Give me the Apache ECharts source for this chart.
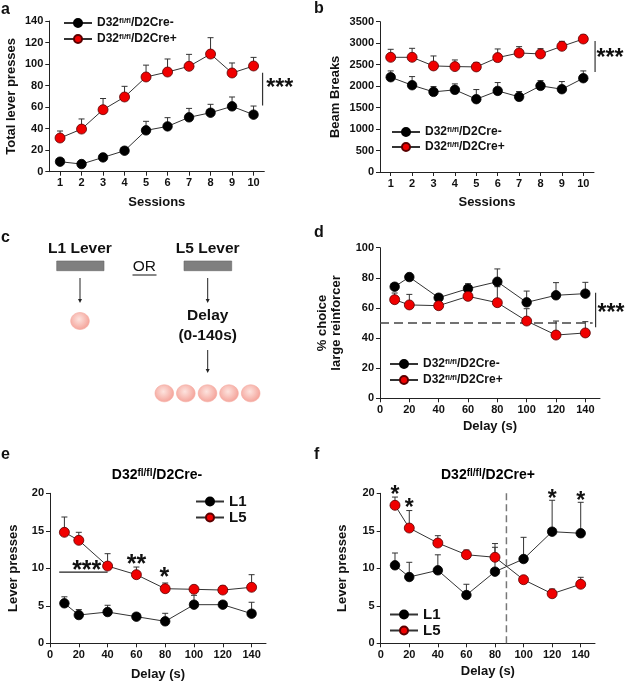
<!DOCTYPE html>
<html><head><meta charset="utf-8">
<script src="https://cdn.jsdelivr.net/npm/echarts@6/dist/echarts.min.js"></script>
<style>html,body{margin:0;padding:0;background:#fff}#c{width:626px;height:685px}</style>
</head><body><div id="c"></div><script>
const FONT = '"Liberation Sans", Arial, Helvetica, sans-serif';

// ---------- data ----------
const sessions = [1, 2, 3, 4, 5, 6, 7, 8, 9, 10];
const delays = [10, 20, 40, 60, 80, 100, 120, 140];
const delayTicks = [0, 20, 40, 60, 80, 100, 120, 140];

const aCreNeg = [9.3, 7.1, 13.3, 19.5, 38.4, 42.1, 50.5, 54.8, 60.7, 53.0];
const aCreNegErr = [2.5, 1.5, 3, 3, 8.4, 8.1, 8.3, 7.8, 8.7, 8.0];
const aCrePos = [31.3, 39.6, 57.6, 69.4, 88.0, 92.6, 97.9, 109.3, 91.7, 98.2];
const aCrePosErr = [6.5, 9.4, 10.4, 9.9, 11.0, 12.1, 11.1, 15.2, 9.3, 8.0];

const bCreNeg = [2207, 2021, 1866, 1913, 1696, 1889, 1750, 2006, 1928, 2184];
const bCreNegErr = [147, 201, 124, 139, 224, 194, 124, 123, 178, 170];
const bCrePos = [2671, 2671, 2470, 2455, 2447, 2664, 2772, 2749, 2927, 3097];
const bCrePosErr = [186, 209, 232, 154, 101, 201, 147, 124, 116, 93];

const dCreNeg = [74.1, 80.5, 66.8, 72.8, 77.4, 63.7, 68.4, 69.5];
const dCreNegErr = [2, 1.5, 2.2, 3.3, 8.5, 7.5, 8.4, 7.5];
const dCrePos = [65.5, 62.0, 61.5, 67.7, 63.5, 51.3, 42.0, 43.4];
const dCrePosErr = [4.4, 7.0, 1.5, 1.5, 10.6, 8.2, 9.3, 7.5];
const dChance = 50;

const eL1 = [5.33, 3.77, 4.17, 3.55, 2.93, 5.15, 5.15, 3.95];
const eL1Err = [0.87, 0.73, 0.9, 0.4, 1.07, 1.25, 0.4, 1.52];
const eL5 = [14.8, 13.73, 10.3, 9.15, 7.28, 7.2, 7.1, 7.47];
const eL5Err = [2.04, 1.07, 1.65, 1.02, 0.76, 0.3, 0.54, 1.68];

const fL1 = [10.4, 8.84, 9.73, 6.44, 9.55, 11.24, 14.88, 14.67];
const fL1Err = [1.64, 1.96, 2.07, 1.43, 3.75, 2.89, 4.19, 4.13];
const fL5 = [18.4, 15.37, 13.37, 11.81, 11.47, 8.48, 6.61, 7.87];
const fL5Err = [1.1, 2.33, 0.98, 0.63, 1.33, 0.3, 0.63, 0.93];
const fDivider = 88;

const NEG = 'D32fl/fl/D2Cre-', POS = 'D32fl/fl/D2Cre+';

// ---------- helpers ----------
const TXT = '#111', AX = '#222';
function gridBox(l, t, r, b) { return { left: l, top: t, width: r - l, height: b - t, containLabel: false, outerBoundsMode: 'none' }; }
function xAx(gi, min, max, ticks, name, gap) {
  return { type: 'value', gridIndex: gi, min, max, name, nameLocation: 'middle', nameGap: gap,
    nameTextStyle: { fontFamily: FONT, fontWeight: 'bold', fontSize: 13, color: TXT },
    axisLine: { show: true, onZero: false, lineStyle: { color: AX, width: 1 } },
    axisTick: { show: true, inside: false, length: 4, customValues: ticks, lineStyle: { color: AX } },
    axisLabel: { customValues: ticks, margin: 6, fontFamily: FONT, fontWeight: 'bold', fontSize: 11, color: TXT,
      formatter: (v) => String(v) },
    splitLine: { show: false } };
}
function yAx(gi, min, max, interval, name, gap) {
  return { type: 'value', gridIndex: gi, min, max, interval, name, nameLocation: 'middle', nameGap: gap,
    nameTextStyle: { fontFamily: FONT, fontWeight: 'bold', fontSize: 13, color: TXT, lineHeight: 14 },
    axisLine: { show: true, onZero: false, lineStyle: { color: AX, width: 1 } },
    axisTick: { show: true, inside: false, length: 4, lineStyle: { color: AX } },
    axisLabel: { margin: 6, fontFamily: FONT, fontWeight: 'bold', fontSize: 11, color: TXT, formatter: (v) => String(v) },
    splitLine: { show: false } };
}
function lineS(gi, name, xs, ys, red) {
  return { type: 'line', name, xAxisIndex: gi, yAxisIndex: gi, z: 3, animation: false,
    data: xs.map((x, i) => [x, ys[i]]), symbol: 'circle', symbolSize: red ? 10 : 9.5,
    itemStyle: { color: red ? '#f00000' : '#000', borderColor: red ? '#5a0000' : '#000', borderWidth: 0.8 },
    lineStyle: { color: '#333', width: 1 }, emphasis: { disabled: true } };
}
function errS(gi, xs, ys, es) {
  return { type: 'custom', xAxisIndex: gi, yAxisIndex: gi, z: 2, silent: true, animation: false, clip: false,
    data: xs.map((x, i) => [x, ys[i], es[i]]), encode: { x: 0, y: 1 },
    renderItem: (params, api) => {
      const x = api.value(0), y = api.value(1), e = api.value(2);
      const p0 = api.coord([x, y]), p1 = api.coord([x, y + e]);
      const st = { stroke: '#333', lineWidth: 1 };
      return { type: 'group', children: [
        { type: 'line', shape: { x1: p0[0], y1: p0[1], x2: p1[0], y2: p1[1] }, style: st },
        { type: 'line', shape: { x1: p1[0] - 3, y1: p1[1], x2: p1[0] + 3, y2: p1[1] }, style: st }
      ] };
    } };
}
function segS(gi, pts, color, width, dash) {
  return { type: 'line', xAxisIndex: gi, yAxisIndex: gi, z: 1, silent: true, animation: false, clip: false,
    data: pts, symbol: 'none', lineStyle: { color, width, type: dash || 'solid' }, emphasis: { disabled: true } };
}
function starS(gi, pts, labels, size) {
  return { type: 'custom', xAxisIndex: gi, yAxisIndex: gi, z: 4, silent: true, animation: false, clip: false,
    data: pts, encode: { x: 0, y: 1 },
    renderItem: (params, api) => {
      const p = api.coord([api.value(0), api.value(1)]);
      return { type: 'text', x: p[0], y: p[1], style: { text: labels[params.dataIndex], fontFamily: FONT,
        fontWeight: 'bold', fontSize: size, fill: '#111', align: 'center', verticalAlign: 'middle' } };
    } };
}
const rich = (fs) => ({
  m: { fontFamily: FONT, fontWeight: 'bold', fontSize: fs, color: TXT, verticalAlign: 'bottom' },
  s: { fontFamily: FONT, fontWeight: 'bold', fontSize: Math.round(fs * 0.7), color: TXT, verticalAlign: 'top' }
});
function supFmt(name) {
  const m = name.match(/^(D32)(fl\/fl)(.*)$/);
  return m ? '{m|' + m[1] + '}{s|' + m[2] + '}{m|' + m[3] + '}' : '{m|' + name + '}';
}
function legendAt(names, left, top, fs, gap) {
  return { data: names, orient: 'vertical', left, top, padding: 0, itemWidth: 28, itemHeight: 10, itemGap: gap,
    selectedMode: false, formatter: supFmt,
    textStyle: { fontFamily: FONT, fontWeight: 'bold', fontSize: fs, color: TXT, rich: rich(fs) } };
}

// ---------- diagram (panel c) ----------
function arrow(x, y1, y2) {
  return [
    { type: 'line', shape: { x1: x, y1, x2: x, y2: y2 - 3 }, style: { stroke: '#222', lineWidth: 1 } },
    { type: 'polygon', shape: { points: [[x - 2, y2 - 4], [x + 2, y2 - 4], [x, y2]] }, style: { fill: '#222' } }
  ];
}
const pelletFill = { type: 'radial', x: 0.45, y: 0.4, r: 0.7, colorStops: [
  { offset: 0, color: '#fde3de' }, { offset: 1, color: '#f39a90' }] };
function pellet(cx, cy) {
  return { type: 'ellipse', shape: { cx, cy, rx: 9.3, ry: 8.5 }, style: { fill: pelletFill, stroke: '#f5a79e', lineWidth: 0.6 } };
}
function txt(x, y, text, fs, weight, align) {
  return { type: 'text', x, y, style: { text, fontFamily: FONT, fontSize: fs, fontWeight: weight || 'bold',
    fill: TXT, align: align || 'left', verticalAlign: 'middle' } };
}
const graphics = [
  txt(1, 10, 'a', 16), txt(314, 9, 'b', 16), txt(1, 238, 'c', 16), txt(314, 233, 'd', 16),
  txt(1, 455, 'e', 16), txt(314, 455, 'f', 16),
  txt(80, 249, 'L1 Lever', 15.5, 'bold', 'center'), txt(207.7, 249, 'L5 Lever', 15.5, 'bold', 'center'),
  { type: 'rect', shape: { x: 56.7, y: 261, width: 47.3, height: 9.7 }, style: { fill: '#7f7f7f', stroke: '#666', lineWidth: 0.6 } },
  { type: 'rect', shape: { x: 184, y: 261, width: 47.7, height: 9.7 }, style: { fill: '#7f7f7f', stroke: '#666', lineWidth: 0.6 } },
  txt(144.3, 267, 'OR', 15.5, 'normal', 'center'),
  { type: 'line', shape: { x1: 132.5, y1: 275, x2: 156.5, y2: 275 }, style: { stroke: '#111', lineWidth: 1 } },
  ...arrow(80, 278, 303), ...arrow(207.7, 278, 303), ...arrow(207.7, 350, 373),
  pellet(80, 321),
  txt(207.7, 316, 'Delay', 15.5, 'bold', 'center'), txt(207.7, 336, '(0-140s)', 15.5, 'bold', 'center'),
  pellet(164.3, 393.3), pellet(185.8, 393.3), pellet(207.5, 393.3), pellet(229, 393.3), pellet(250.7, 393.3),
  { type: 'text', x: 157, y: 475, style: { text: supFmt(NEG), rich: rich(14), align: 'center', verticalAlign: 'middle',
    fontFamily: FONT, fontWeight: 'bold', fontSize: 14 } },
  { type: 'text', x: 488, y: 475, style: { text: supFmt(POS), rich: rich(14), align: 'center', verticalAlign: 'middle',
    fontFamily: FONT, fontWeight: 'bold', fontSize: 14 } }
];

// ---------- option ----------
const option = {
  animation: false,
  backgroundColor: '#fff',
  grid: [
    gridBox(49.3, 21, 264.3, 171.7),
    gridBox(380, 21.7, 594, 172),
    gridBox(380, 247.7, 600, 398.3),
    gridBox(50, 493.3, 266, 643.3),
    gridBox(380.7, 493.3, 595, 643.3)
  ],
  xAxis: [
    xAx(0, 0.5, 10.5, sessions, 'Sessions', 24),
    xAx(1, 0.5, 10.5, sessions, 'Sessions', 24),
    xAx(2, 0, 150, delayTicks, 'Delay (s)', 22),
    xAx(3, 0, 150, delayTicks, 'Delay (s)', 25),
    xAx(4, 0, 150, delayTicks, 'Delay (s)', 22)
  ],
  yAxis: [
    yAx(0, 0, 140, 20, 'Total lever presses', 31),
    yAx(1, 0, 3500, 500, 'Beam Breaks', 38),
    yAx(2, 0, 100, 20, '% choice\nlarge reinforcer', 37),
    yAx(3, 0, 20, 5, 'Lever presses', 30),
    yAx(4, 0, 20, 5, 'Lever presses', 31)
  ],
  legend: [
    legendAt([NEG, POS], 63, 17, 12, 4),
    legendAt([NEG, POS], 391, 126, 12, 3),
    legendAt([NEG, POS], 389, 358, 12, 4),
    legendAt(['L1', 'L5'], 195, 494, 15, 1),
    legendAt(['L1', 'L5'], 389, 607, 15, 1)
  ],
  graphic: graphics,
  series: [
    // a
    errS(0, sessions, aCreNeg, aCreNegErr), errS(0, sessions, aCrePos, aCrePosErr),
    lineS(0, NEG, sessions, aCreNeg, false), lineS(0, POS, sessions, aCrePos, true),
    segS(0, [[10.42, 61.6], [10.42, 92]], '#333', 1.2),
    starS(0, [[11.22, 77]], ['***'], 23),
    // b
    errS(1, sessions, bCreNeg, bCreNegErr), errS(1, sessions, bCrePos, bCrePosErr),
    lineS(1, NEG, sessions, bCreNeg, false), lineS(1, POS, sessions, bCrePos, true),
    segS(1, [[10.55, 2331], [10.55, 3051]], '#333', 1.2),
    starS(1, [[11.25, 2650]], ['***'], 23),
    // d
    segS(2, [[0, dChance], [145, dChance]], '#444', 1.4, [9, 5]),
    errS(2, delays, dCreNeg, dCreNegErr), errS(2, delays, dCrePos, dCrePosErr),
    lineS(2, NEG, delays, dCreNeg, false), lineS(2, POS, delays, dCrePos, true),
    segS(2, [[147, 47.1], [147, 70.1]], '#333', 1.2),
    starS(2, [[157.5, 56]], ['***'], 23),
    // e
    errS(3, delays, eL1, eL1Err), errS(3, delays, eL5, eL5Err),
    lineS(3, 'L1', delays, eL1, false), lineS(3, 'L5', delays, eL5, true),
    segS(3, [[6.4, 9.5], [40, 9.5]], '#222', 1.2),
    starS(3, [[25.5, 9.6], [60, 10.4], [79.5, 8.7]], ['***', '**', '*'], 25),
    // f
    segS(4, [[fDivider, 0], [fDivider, 20]], '#777', 1.5, [7, 4]),
    errS(4, delays, fL1, fL1Err), errS(4, delays, fL5, fL5Err),
    lineS(4, 'L1', delays, fL1, false), lineS(4, 'L5', delays, fL5, true),
    starS(4, [[10, 19.7], [20, 17.9], [120, 19.1], [140, 18.9]], ['*', '*', '*', '*'], 23)
  ]
};
const chart = echarts.init(document.getElementById('c'), null, { renderer: 'canvas' });
chart.setOption(option);
</script></body></html>
